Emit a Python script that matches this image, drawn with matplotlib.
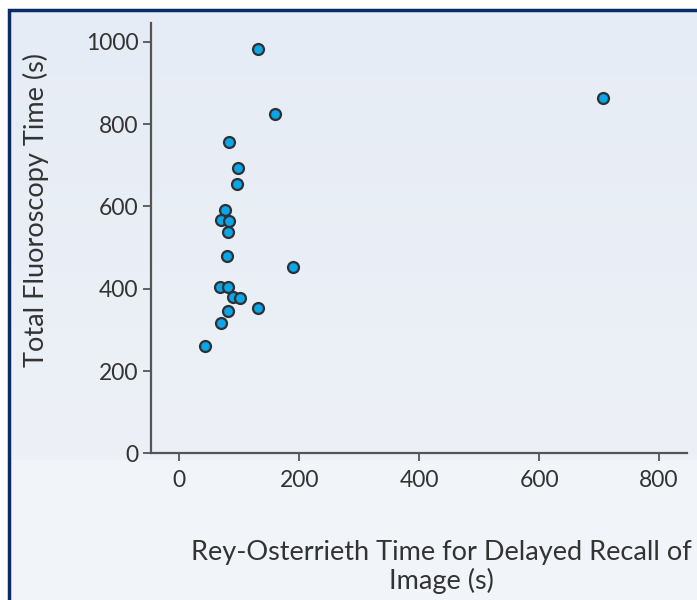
import numpy as np
import matplotlib
matplotlib.use("Agg")
import matplotlib.pyplot as plt
from matplotlib.patches import Rectangle

# Delayed recall time (s) vs total fluoroscopy time (s)
recall_time = [132, 159, 83, 98, 97, 77, 69, 83, 82, 79, 189, 68, 81, 89, 102,
               131, 81, 69, 43, 706]
fluoro_time = [984, 825, 756, 693, 654, 592, 566, 565, 539, 480, 453, 404, 404,
               381, 378, 352, 345, 316, 260, 864]

x_ticks = [0, 200, 400, 600, 800]
y_ticks = [0, 200, 400, 600, 800, 1000]

plt.rcParams['font.family'] = ['Lato', 'DejaVu Sans']
text_color = '#333333'

W, H = 697, 600
fig = plt.figure(figsize=(W / 100, H / 100), dpi=100, facecolor='white')

# background panel with navy frame
bg = fig.add_axes([0, 0, 1, 1], zorder=-10)
bg.set_xlim(0, W)
bg.set_ylim(H, 0)
bg.axis('off')
bg.add_patch(Rectangle((9, 10), W + 20, H + 20, facecolor='#f1f5fa',
                       edgecolor='none'))
grad = np.linspace(0, 1, 100).reshape(-1, 1)
cmap = matplotlib.colors.LinearSegmentedColormap.from_list('g', ['#e6ecf5', '#edf1f7'])
bg.imshow(grad, cmap=cmap, extent=(9, W, 460, 10), aspect='auto', zorder=1)
bg.plot([9, 9, W + 5], [H + 5, 9.5, 9.5], color='#0b2a66', linewidth=2.5,
        solid_joinstyle='miter', zorder=5)
bg.set_xlim(0, W)
bg.set_ylim(H, 0)

ax = fig.add_axes([151 / W, 1 - 453.3 / H, (686.7 - 151) / W, (453.3 - 23) / H])
ax.patch.set_alpha(0)
ax.scatter(recall_time, fluoro_time, s=62, color='#0aa6e6', edgecolor='#2d3035',
           linewidth=1.6, zorder=3)

ax.set_xlim(-47, 846)
ax.set_ylim(0, 1046)
ax.set_xticks(x_ticks)
ax.set_yticks(y_ticks)
for s in ['top', 'right']:
    ax.spines[s].set_visible(False)
for s in ['left', 'bottom']:
    ax.spines[s].set_color('#555555')
    ax.spines[s].set_linewidth(1.6)
ax.tick_params(axis='both', colors='#555555', labelcolor=text_color, width=1.3,
               length=6, labelsize=16.5)
ax.tick_params(axis='x', pad=6)
ax.tick_params(axis='y', pad=3)

fig.text(441.5 / W, 1 - 567 / H,
         'Rey-Osterrieth Time for Delayed Recall of\nImage (s)',
         ha='center', va='center', multialignment='center', fontsize=19.5,
         color=text_color, linespacing=1.1)
fig.text(36 / W, 1 - 210 / H, 'Total Fluoroscopy Time (s)', rotation=90,
         ha='center', va='center', fontsize=19.5, color=text_color)

fig.savefig('out.png', dpi=100, facecolor='white')
